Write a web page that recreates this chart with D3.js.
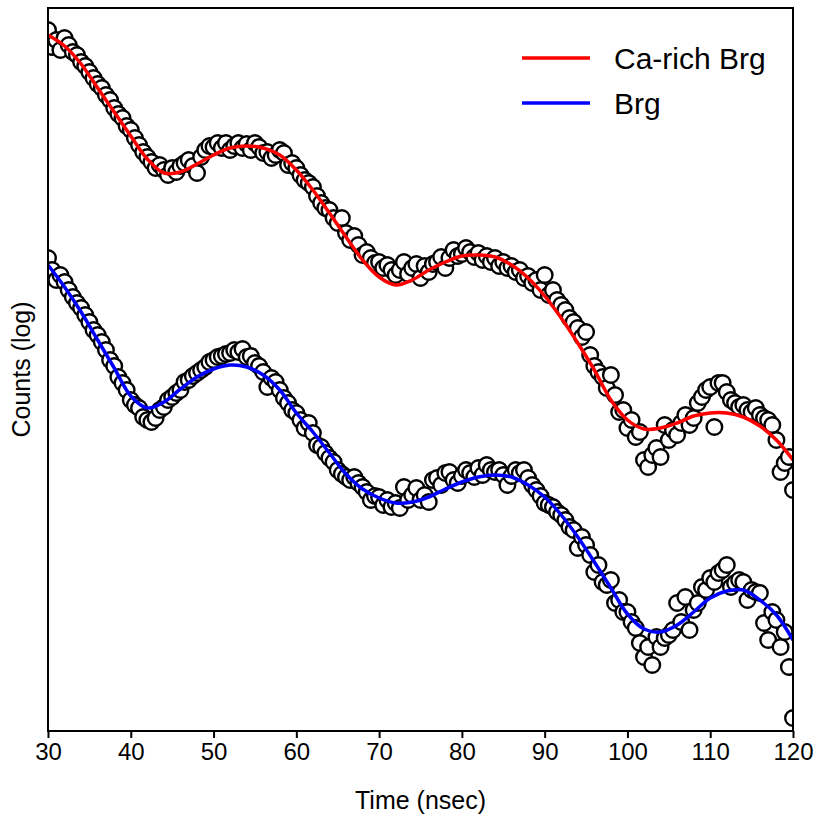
<!DOCTYPE html>
<meta charset="utf-8">
<style>
  body { margin: 0; background: #fff; }
  text { font-family: "Liberation Sans", Arial, Helvetica, sans-serif; }
</style>
<body>
<script src="https://d3js.org/d3.v7.min.js"></script>
<script>
  // measured time bins (ns), 0.5 ns wide
  var dataTime = d3.range(30, 120.25, 0.5);

  // log counts, Ca-rich Brg (one row = 5 ns)
  var caRichCounts = [
    7.01, 6.84, 6.91, 6.81, 6.93, 6.86, 6.79, 6.76, 6.69, 6.65,
    6.59, 6.53, 6.47, 6.43, 6.36, 6.31, 6.23, 6.17, 6.13, 6.05,
    6.01, 5.93, 5.86, 5.79, 5.74, 5.69, 5.63, 5.66, 5.61, 5.56,
    5.63, 5.59, 5.65, 5.68, 5.71, 5.65, 5.58, 5.74, 5.81, 5.85,
    5.84, 5.88, 5.83, 5.88, 5.81, 5.85, 5.88, 5.83, 5.87, 5.81,
    5.88, 5.84, 5.78, 5.79, 5.73, 5.76, 5.81, 5.78, 5.66, 5.68,
    5.63, 5.56, 5.51, 5.48, 5.44, 5.35, 5.28, 5.23, 5.21, 5.13,
    5.08, 5.13, 4.98, 4.91, 4.95, 4.86, 4.76, 4.79, 4.73, 4.68,
    4.69, 4.63, 4.66, 4.61, 4.56, 4.61, 4.69, 4.57, 4.63, 4.67,
    4.53, 4.65, 4.59, 4.67, 4.69, 4.74, 4.63, 4.73, 4.81, 4.75,
    4.77, 4.83, 4.79, 4.74, 4.78, 4.71, 4.75, 4.69, 4.73, 4.65,
    4.69, 4.63, 4.65, 4.59, 4.61, 4.53, 4.55, 4.48, 4.51, 4.41,
    4.56, 4.36, 4.41, 4.31, 4.26, 4.21, 4.13, 4.09, 4.03, 3.94,
    3.99, 3.76, 3.65, 3.59, 3.54, 3.43, 3.56, 3.36, 3.19, 3.21,
    3.03, 3.11, 2.94, 2.99, 2.71, 2.64, 2.76, 2.83, 2.74, 3.06,
    2.91, 3.01, 2.96, 3.08, 3.16, 3.06, 3.13, 3.28, 3.34, 3.41,
    3.44, 3.04, 3.48, 3.48, 3.39, 3.31, 3.28, 3.24, 3.26, 3.21,
    3.19, 3.23, 3.16, 3.13, 3.11, 3.06, 2.91, 2.59, 2.68, 2.74,
    2.41
  ];

  // log counts, Brg
  var brgCounts = [
    4.73, 4.61, 4.51, 4.56, 4.49, 4.41, 4.34, 4.28, 4.23, 4.16,
    4.09, 4.01, 3.96, 3.89, 3.81, 3.71, 3.65, 3.54, 3.48, 3.41,
    3.31, 3.26, 3.23, 3.14, 3.11, 3.09, 3.13, 3.21, 3.24, 3.31,
    3.34, 3.38, 3.41, 3.49, 3.51, 3.55, 3.58, 3.61, 3.64, 3.69,
    3.71, 3.74, 3.75, 3.77, 3.78, 3.81, 3.79, 3.82, 3.74, 3.75,
    3.68, 3.65, 3.59, 3.44, 3.53, 3.49, 3.41, 3.33, 3.28, 3.21,
    3.18, 3.11, 3.03, 3.08, 2.98, 2.86, 2.84, 2.78, 2.73, 2.69,
    2.61, 2.57, 2.54, 2.51, 2.54, 2.48, 2.44, 2.39, 2.31, 2.35,
    2.34, 2.26, 2.31, 2.24, 2.28, 2.23, 2.44, 2.31, 2.36, 2.43,
    2.31, 2.36, 2.29, 2.51, 2.53, 2.46, 2.58, 2.59, 2.51, 2.48,
    2.55, 2.61, 2.58, 2.54, 2.63, 2.56, 2.66, 2.61, 2.59, 2.61,
    2.56, 2.46, 2.55, 2.61, 2.58, 2.61, 2.53, 2.46, 2.41, 2.35,
    2.28, 2.26, 2.24, 2.19, 2.16, 2.11, 2.04, 2.01, 1.83, 1.94,
    1.86, 1.76, 1.59, 1.66, 1.49, 1.46, 1.51, 1.28, 1.31, 1.19,
    1.19, 1.09, 1.03, 0.88, 0.74, 0.84, 0.66, 0.94, 0.84, 0.93,
    0.96, 1.01, 1.28, 1.09, 1.34, 1.01, 1.21, 1.28, 1.44, 1.41,
    1.53, 1.49, 1.58, 1.61, 1.66, 1.44, 1.48, 1.51, 1.49, 1.31,
    1.41, 1.39, 1.38, 1.08, 0.91, 1.19, 1.11, 0.84, 0.99, 0.64,
    0.13
  ];

  // fitted curves, every 2 ns
  var fitTime = d3.range(30, 121, 2);
  var caRichFit = [
    6.96, 6.85, 6.67, 6.43, 6.19, 5.95, 5.72, 5.58, 5.59, 5.67,
    5.76, 5.83, 5.85, 5.83, 5.76, 5.61, 5.41, 5.18, 4.94, 4.71,
    4.54, 4.46, 4.51, 4.61, 4.69, 4.75, 4.76, 4.74, 4.66, 4.53,
    4.35, 4.13, 3.88, 3.61, 3.31, 3.11, 3.02, 3.03, 3.08, 3.15,
    3.18, 3.18, 3.14, 3.05, 2.91, 2.71
  ];
  var brgFit = [
    4.66, 4.44, 4.19, 3.91, 3.63, 3.35, 3.23, 3.29, 3.42, 3.54,
    3.62, 3.66, 3.64, 3.56, 3.41, 3.18, 2.99, 2.78, 2.57, 2.42,
    2.33, 2.28, 2.29, 2.34, 2.42, 2.49, 2.54, 2.56, 2.54, 2.46,
    2.34, 2.16, 1.94, 1.69, 1.43, 1.17, 1.02, 0.99, 1.06, 1.19,
    1.33, 1.40, 1.41, 1.31, 1.16, 0.91
  ];

  var xTicks = [30, 40, 50, 60, 70, 80, 90, 100, 110, 120];
  var seriesNames = ["Ca-rich Brg", "Brg"];
  var seriesColors = ["#ff0000", "#0000ff"];

  var svg = d3.select("body").append("svg")
          .attr("width", 819)
          .attr("height", 817);

  var margin = {top: 8, right: 26, bottom: 86, left: 48},
          width = +svg.attr("width") - margin.left - margin.right,
          height = +svg.attr("height") - margin.top - margin.bottom,
          g = svg.append("g").attr("transform", "translate(" + margin.left + "," + margin.top + ")");

  var xScale = d3.scaleLinear().domain([30, 120]).range([0, width]);
  var yScale = d3.scaleLinear().domain([0, 7.23]).range([height, 0]);

  g.append("clipPath").attr("id", "plot-clip")
          .append("rect").attr("width", width).attr("height", height);

  var plot = g.append("g").attr("clip-path", "url(#plot-clip)");

  [caRichCounts, brgCounts].forEach(function(counts) {
    plot.append("g").selectAll("circle")
            .data(counts)
            .enter()
            .append("circle")
            .attr("cx", function(d, i) { return xScale(dataTime[i]); })
            .attr("cy", function(d) { return yScale(d); })
            .attr("r", 7.8)
            .style("fill", "#fff")
            .style("stroke", "#000")
            .style("stroke-width", 2.4);
  });

  var line = d3.line()
          .x(function(d, i) { return xScale(fitTime[i]); })
          .y(function(d) { return yScale(d); })
          .curve(d3.curveCatmullRom.alpha(0.5));

  [caRichFit, brgFit].forEach(function(fit, k) {
    plot.append("path")
            .datum(fit)
            .attr("d", line)
            .style("fill", "none")
            .style("stroke", seriesColors[k])
            .style("stroke-width", 3.5);
  });

  // frame
  g.append("rect")
          .attr("width", width)
          .attr("height", height)
          .style("fill", "none")
          .style("stroke", "#000")
          .style("stroke-width", 2);

  var xAxis = g.append("g")
          .attr("transform", "translate(0," + height + ")")
          .call(d3.axisBottom(xScale).tickValues(xTicks).tickSize(7).tickPadding(5).tickSizeOuter(0));
  xAxis.select(".domain").remove();
  xAxis.selectAll(".tick line").style("stroke-width", 2);
  xAxis.selectAll(".tick text")
          .style("font-size", "24px")
          .style("font-family", "'Liberation Sans', Arial, sans-serif");

  svg.append("text")
          .attr("x", margin.left + width / 2)
          .attr("y", 809)
          .attr("text-anchor", "middle")
          .style("font-size", "25px")
          .text("Time (nsec)");

  svg.append("text")
          .attr("transform", "translate(30," + (margin.top + height / 2) + ") rotate(-90)")
          .attr("text-anchor", "middle")
          .style("font-size", "25px")
          .text("Counts (log)");

  // legend
  var legend = svg.append("g").attr("transform", "translate(522,58)");
  seriesNames.forEach(function(name, k) {
    var row = legend.append("g").attr("transform", "translate(0," + (k * 45) + ")");
    row.append("line")
            .attr("x1", 0).attr("x2", 68)
            .style("stroke", seriesColors[k])
            .style("stroke-width", 3.5);
    row.append("text")
            .attr("x", 92)
            .attr("dy", "0.36em")
            .style("font-size", "30px")
            .text(name);
  });
</script>
</body>
